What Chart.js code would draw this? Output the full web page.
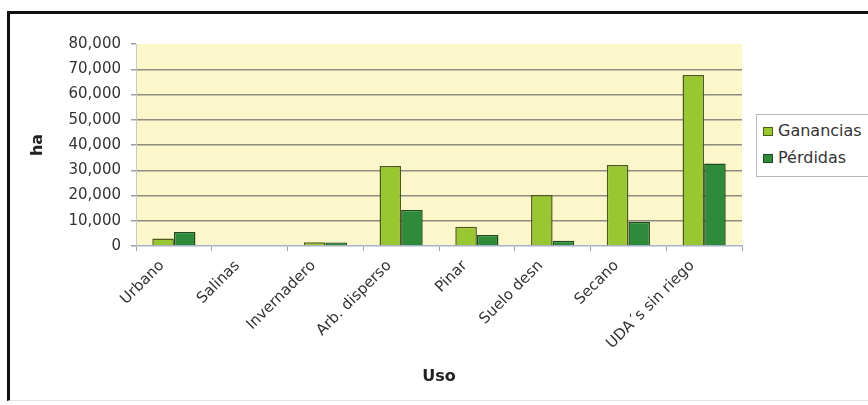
<!DOCTYPE html>
<html>
<head>
<meta charset="utf-8">
<script src="https://cdn.jsdelivr.net/npm/chart.js@4/dist/chart.umd.min.js"></script>
<style>
  html, body { margin: 0; padding: 0; background: #fff; }
  body { width: 868px; height: 405px; overflow: hidden; position: relative; font-family: "DejaVu Sans", sans-serif; }
  #frame { position: absolute; left: 7px; top: 11px; width: 900px; height: 386px;
           border-top: 3px solid #111; border-left: 3px solid #111; border-bottom: 1px solid #e4e4e4; }
  #chart { position: absolute; left: 0; top: 0; }
  #legend { position: absolute; left: 756px; top: 114px; width: 140px; height: 61px;
            border: 1px solid #b8b8b8; background: #fff; }
  .item { position: absolute; left: 6px; height: 20px; line-height: 20px; font-size: 16px; color: #333; white-space: nowrap; }
  .swatch { display: inline-block; width: 10px; height: 9px; margin-right: 5px; vertical-align: 0px; box-sizing: border-box; }
</style>
</head>
<body>
<div id="frame"></div>
<canvas id="chart" width="868" height="405"></canvas>
<div id="legend"></div>
<script>
// data
const categories = ["Urbano", "Salinas", "Invernadero", "Arb. disperso", "Pinar", "Suelo desn", "Secano", "UDA´s sin riego"];
const ganancias = [3000, 0, 1500, 31700, 7600, 20200, 32100, 67700];
const perdidas = [5500, 0, 1400, 14300, 4400, 2100, 9600, 32700];
const seriesNames = ["Ganancias", "Pérdidas"];
const yTicks = [0, 10000, 20000, 30000, 40000, 50000, 60000, 70000, 80000];

const fills = ["#99c732", "#2d8b3a"];
const edges = ["#4d5a1c", "#1d4a1f"];

// pale yellow plot background
const plotBg = {
  id: "plotBg",
  beforeDraw(chart) {
    const { ctx, chartArea: a } = chart;
    ctx.save();
    ctx.fillStyle = "#fcf6cb";
    ctx.fillRect(a.left, a.top, a.right - a.left, a.bottom - a.top);
    ctx.restore();
  },
};

const ctx = document.getElementById("chart").getContext("2d");
new Chart(ctx, {
  type: "bar",
  data: {
    labels: categories,
    datasets: [
      { label: seriesNames[0], data: ganancias, backgroundColor: fills[0], borderColor: edges[0], borderWidth: 1.5 },
      { label: seriesNames[1], data: perdidas, backgroundColor: fills[1], borderColor: edges[1], borderWidth: 1.5 },
    ],
  },
  options: {
    responsive: false,
    animation: false,
    layout: { padding: { left: 24, right: 126, top: 44, bottom: 15 } },
    datasets: { bar: { categoryPercentage: 0.57, barPercentage: 1 } },
    plugins: { legend: { display: false }, tooltip: { enabled: false } },
    scales: {
      x: {
        afterFit: (scale) => { scale.height = 144; },
        grid: { drawOnChartArea: false, tickLength: 5, tickColor: "#a0a0a0" },
        border: { color: "#aab2c8", width: 1.5 },
        ticks: {
          minRotation: 45, maxRotation: 45, padding: 6, labelOffset: -12,
          color: "#333", font: { family: "DejaVu Sans", size: 15 },
        },
        title: { display: true, text: "Uso", color: "#222", font: { family: "DejaVu Sans", size: 16, weight: "bold" }, padding: { top: 4, bottom: 4 } },
      },
      y: {
        min: 0, max: 80000,
        afterFit: (scale) => { scale.width = 112; },
        afterBuildTicks: (scale) => { scale.ticks = yTicks.map((v) => ({ value: v })); },
        grid: {
          color: (c) => (c.tick && (c.tick.value === 0 || c.tick.value === 80000) ? "rgba(0,0,0,0)" : "#8e8c80"),
          lineWidth: 1.5, tickLength: 5, tickColor: "#a0a0a0",
        },
        border: { color: "#c8c8c8", width: 1 },
        ticks: {
          padding: 10, color: "#333", font: { family: "DejaVu Sans", size: 15 },
          callback: (v) => v.toLocaleString("en-US"),
        },
        title: { display: true, text: "ha", color: "#222", font: { family: "DejaVu Sans", size: 16, weight: "bold" }, padding: { top: 4, bottom: 4 } },
      },
    },
  },
  plugins: [plotBg],
});

// legend box on the right
const legend = document.getElementById("legend");
seriesNames.forEach((name, i) => {
  const row = document.createElement("div");
  row.className = "item";
  row.style.top = (6 + i * 27) + "px";
  const sw = document.createElement("span");
  sw.className = "swatch";
  sw.style.background = fills[i];
  sw.style.border = "1px solid " + edges[i];
  row.appendChild(sw);
  row.appendChild(document.createTextNode(name));
  legend.appendChild(row);
});
</script>
</body>
</html>
